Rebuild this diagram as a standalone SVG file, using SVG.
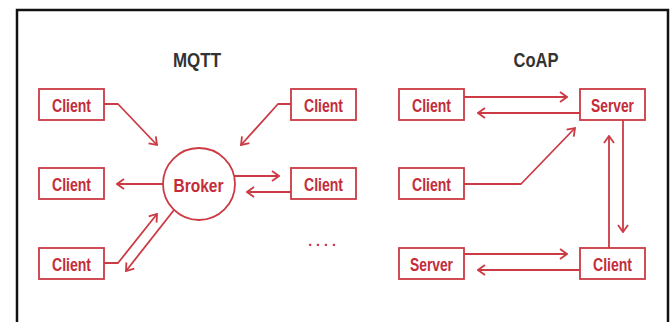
<svg xmlns="http://www.w3.org/2000/svg" width="672" height="322" viewBox="0 0 672 322">
  <style>
    .box { fill: #ffffff; stroke: #cc3a44; stroke-width: 1.8; }
    .lbl { font-family: "Liberation Sans", Arial, sans-serif; font-weight: bold; font-size: 19px; fill: #c42c3a; text-anchor: middle; }
    .title { font-family: "Liberation Sans", Arial, sans-serif; font-weight: bold; font-size: 21px; fill: #333333; text-anchor: middle; }
    .wire { fill: none; stroke: #cc3a44; stroke-width: 1.8; stroke-linejoin: round; }
    .arr { marker-end: url(#ah); }
  </style>
  <defs>
    <marker id="ah" viewBox="0 0 10 12" refX="9" refY="6" markerWidth="10" markerHeight="12" markerUnits="userSpaceOnUse" orient="auto">
      <path d="M2,1 L9,6 L2,11" fill="none" stroke="#cc3a44" stroke-width="1.8" stroke-linejoin="miter"/>
    </marker>
  </defs>

  <rect width="672" height="322" fill="#ffffff"/>
  <!-- outer frame, open at the bottom -->
  <path d="M17,330 V10 H668 V330" fill="none" stroke="#111111" stroke-width="2.5"/>

  <text class="title" x="197" y="67" textLength="48" lengthAdjust="spacingAndGlyphs">MQTT</text>
  <text class="title" x="536" y="67" textLength="45" lengthAdjust="spacingAndGlyphs">CoAP</text>

  <!-- connectors -->
  <g id="connectors">
    <!-- MQTT -->
    <path class="wire arr" d="M104,104 H118 L157,145"/>
    <path class="wire arr" d="M291,104 H278 L241,145"/>
    <path class="wire arr" d="M163,184 H117"/>
    <path class="wire arr" d="M234,176 H279"/>
    <path class="wire arr" d="M291,192 H247"/>
    <path class="wire arr" d="M104,263 H118 L157,214"/>
    <path class="wire arr" d="M174,210 L126,271"/>
    <!-- CoAP -->
    <path class="wire arr" d="M464,97 H567"/>
    <path class="wire arr" d="M580,113 H478"/>
    <path class="wire arr" d="M464,184 H521 L575,128"/>
    <path class="wire arr" d="M623,120 V232"/>
    <path class="wire arr" d="M609,248 V136"/>
    <path class="wire arr" d="M464,254 H567"/>
    <path class="wire arr" d="M580,270 H478"/>
  </g>

  <!-- MQTT nodes -->
  <g id="mqtt-client-1">
    <rect class="box" x="39" y="89" width="65" height="31"/>
    <text class="lbl" x="71.5" y="111.5" textLength="39" lengthAdjust="spacingAndGlyphs">Client</text>
  </g>
  <g id="mqtt-client-2">
    <rect class="box" x="39" y="168" width="65" height="31"/>
    <text class="lbl" x="71.5" y="190.5" textLength="39" lengthAdjust="spacingAndGlyphs">Client</text>
  </g>
  <g id="mqtt-client-3">
    <rect class="box" x="39" y="248" width="65" height="31"/>
    <text class="lbl" x="71.5" y="270.5" textLength="39" lengthAdjust="spacingAndGlyphs">Client</text>
  </g>
  <g id="mqtt-client-4">
    <rect class="box" x="291" y="89" width="65" height="31"/>
    <text class="lbl" x="323.5" y="111.5" textLength="39" lengthAdjust="spacingAndGlyphs">Client</text>
  </g>
  <g id="mqtt-client-5">
    <rect class="box" x="291" y="168" width="65" height="31"/>
    <text class="lbl" x="323.5" y="190.5" textLength="39" lengthAdjust="spacingAndGlyphs">Client</text>
  </g>
  <g id="broker">
    <circle class="box" cx="199" cy="184" r="36"/>
    <text class="lbl" x="198.5" y="191.5" font-size="21" textLength="50" lengthAdjust="spacingAndGlyphs">Broker</text>
  </g>
  <g id="more">
    <text x="324" y="246" font-family="Liberation Sans, sans-serif" font-size="14" font-weight="bold" fill="#c42c3a" text-anchor="middle" letter-spacing="4">....</text>
  </g>

  <!-- CoAP nodes -->
  <g id="coap-client-1">
    <rect class="box" x="399" y="89" width="65" height="31"/>
    <text class="lbl" x="431.5" y="111.5" textLength="39" lengthAdjust="spacingAndGlyphs">Client</text>
  </g>
  <g id="coap-server-1">
    <rect class="box" x="580" y="89" width="65" height="31"/>
    <text class="lbl" x="612.5" y="111.5" textLength="43" lengthAdjust="spacingAndGlyphs">Server</text>
  </g>
  <g id="coap-client-2">
    <rect class="box" x="399" y="168" width="65" height="31"/>
    <text class="lbl" x="431.5" y="190.5" textLength="39" lengthAdjust="spacingAndGlyphs">Client</text>
  </g>
  <g id="coap-server-2">
    <rect class="box" x="399" y="248" width="65" height="31"/>
    <text class="lbl" x="431.5" y="270.5" textLength="43" lengthAdjust="spacingAndGlyphs">Server</text>
  </g>
  <g id="coap-client-3">
    <rect class="box" x="580" y="248" width="65" height="31"/>
    <text class="lbl" x="612.5" y="270.5" textLength="39" lengthAdjust="spacingAndGlyphs">Client</text>
  </g>
</svg>
